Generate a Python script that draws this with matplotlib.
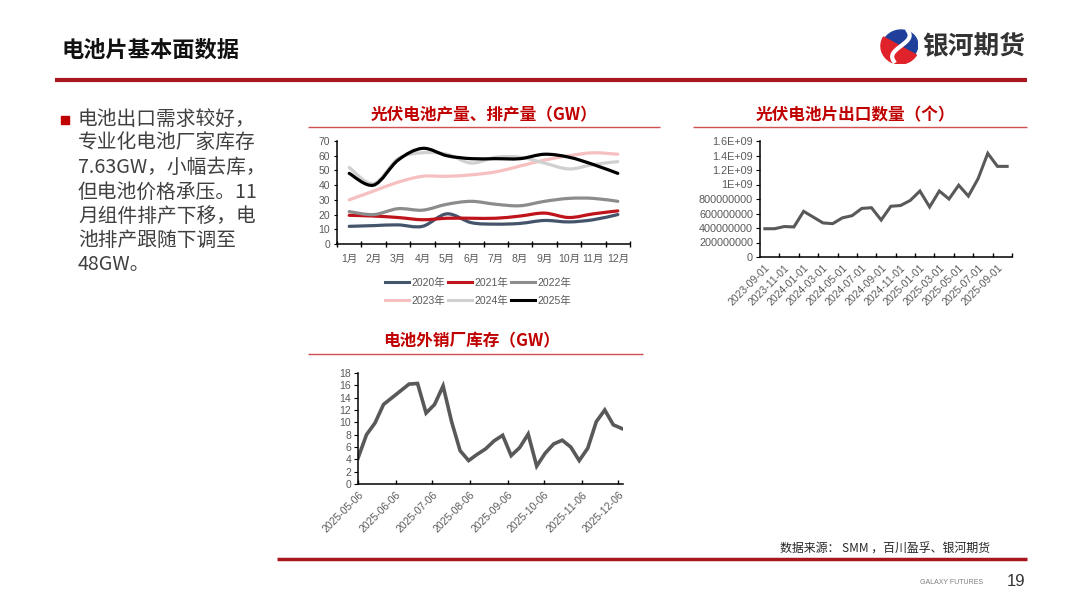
import matplotlib
matplotlib.use('Agg')
import matplotlib.pyplot as plt
import numpy as np
import pandas as pd
from matplotlib.path import Path
from matplotlib.patches import PathPatch, Rectangle, Ellipse, Wedge
from matplotlib.lines import Line2D
from matplotlib.ticker import FuncFormatter, MultipleLocator
import matplotlib.dates as mdates

plt.rcParams['font.family'] = ['Liberation Sans', 'Noto Sans CJK SC']
CJK = ['Noto Sans CJK SC', 'Liberation Sans']

# ---- data: 光伏电池产量、排产量 (GW) ----
months = ['1月', '2月', '3月', '4月', '5月', '6月', '7月', '8月', '9月', '10月', '11月', '12月']
y2020 = [12, 12.5, 13, 12, 20.5, 14.5, 13.5, 14, 16, 15, 16.5, 20]
y2021 = [19.5, 19, 18, 16.5, 17.5, 17.5, 17.5, 19, 21, 18, 20.5, 22.5]
y2022 = [22, 20, 24, 23, 27, 29, 27, 26, 29, 31, 31, 29]
y2023 = [30, 36, 42, 46, 46, 47, 49, 53, 57, 60, 62, 61]
y2024 = [52, 41, 58, 62, 61, 55, 59, 59, 55, 51, 54, 56]
y2025 = [48, 40, 57, 65, 60, 58, 58, 58, 61, 59, 54, 48]
series_names = ['2020年', '2021年', '2022年', '2023年', '2024年', '2025年']
series_colors = ['#44546A', '#C0141C', '#8C8C8C', '#F6C0C0', '#D0D0D0', '#000000']

# ---- data: 光伏电池片出口数量 (个) ----
export_months = pd.date_range('2023-09-01', '2025-10-01', freq='MS')
export_qty = [3.9e8, 3.9e8, 4.2e8, 4.15e8, 6.3e8, 5.5e8, 4.7e8, 4.6e8, 5.4e8, 5.7e8,
              6.7e8, 6.8e8, 5.1e8, 7.0e8, 7.1e8, 7.8e8, 9.1e8, 6.9e8, 9.1e8, 8.0e8,
              9.9e8, 8.4e8, 1.08e9, 1.43e9, 1.25e9, 1.25e9]

# ---- data: 电池外销厂库存 (GW) ----
stock_dates = pd.date_range('2025-05-06', periods=32, freq='7D')
stock_gw = [4.2, 8.0, 9.9, 12.9, 14.0, 15.1, 16.2, 16.3, 11.5, 12.9, 15.9, 10.1,
            5.4, 3.8, 4.8, 5.7, 7.0, 7.9, 4.6, 5.9, 8.1, 2.9, 5.0, 6.5,
            7.1, 6.0, 3.8, 5.8, 10.1, 12.0, 9.6, 9.0]

W, H = 1080, 608
TICK_C = '#595959'
TITLE_RED = '#C00000'
DARK_RED = '#A8171C'


def fx(x):
    return x / W


def fy(y):
    return 1 - y / H


def smooth_path(x, y):
    """Excel-like smoothed line as cubic bezier through the points."""
    pts = np.column_stack([x, y]).astype(float)
    n = len(pts)
    verts = [pts[0]]
    codes = [Path.MOVETO]
    for i in range(n - 1):
        p0 = pts[i - 1] if i > 0 else pts[i]
        p1 = pts[i]
        p2 = pts[i + 1]
        p3 = pts[i + 2] if i + 2 < n else pts[i + 1]
        verts += [p1 + (p2 - p0) / 6, p2 - (p3 - p1) / 6, p2]
        codes += [Path.CURVE4] * 3
    return Path(verts, codes)


def hline(fig, x0, x1, y, color, lw):
    fig.add_artist(Line2D([fx(x0), fx(x1)], [fy(y), fy(y)], transform=fig.transFigure,
                          color=color, lw=lw, solid_capstyle='butt'))


def style_axes(ax):
    for s in ['top', 'right']:
        ax.spines[s].set_visible(False)
    for s in ['left', 'bottom']:
        ax.spines[s].set_color('black')
        ax.spines[s].set_linewidth(1.1)
    ax.tick_params(colors=TICK_C, labelsize=7.5)
    ax.tick_params(axis='both', which='both', color='black')


fig = plt.figure(figsize=(10.8, 6.08), dpi=100)

# ---- page header ----
fig.text(fx(62), fy(50), '电池片基本面数据', family=CJK, fontsize=16, fontweight='bold',
         color='#111111', va='center', ha='left')
hline(fig, 55, 1027, 80, DARK_RED, 3.0)

# logo
lax = fig.add_axes([fx(880), fy(64), fx(38), 36 / H])
lax.set_xlim(-1, 1)
lax.set_ylim(-1, 1)
lax.axis('off')
lax.add_patch(Ellipse((0.05, 0.0), 1.9, 1.75, angle=25, color='#1F3F9A'))
lax.add_patch(Wedge((0.05, 0.0), 1.0, 150, 330, color='#E0222A'))
t = np.linspace(-1, 1, 40)
lax.plot(0.1 + 0.55 * np.sin(t * 2.6) * 0.6 + 0.2 * t, 0.85 * t, color='white', lw=3)
fig.text(fx(922), fy(46), '银河期货', family=CJK, fontsize=18.5, fontweight='bold',
         color='#333333', va='center', ha='left')

# ---- left bullet text ----
fig.add_artist(Rectangle((fx(61), fy(124)), fx(8), 8 / H, transform=fig.transFigure,
                         color='#C00000'))
lines = ['电池出口需求较好，', '专业化电池厂家库存', '7.63GW，小幅去库，', '但电池价格承压。11',
         '月组件排产下移，电', '池排产跟随下调至', '48GW。']
for i, s in enumerate(lines):
    fig.text(fx(78), fy(119 + i * 24.3), s, family=CJK, fontsize=14.2, color='#404040',
             va='center', ha='left')

# ---- chart 1: 光伏电池产量、排产量 ----
fig.text(fx(484), fy(115), '光伏电池产量、排产量（GW）', family=CJK, fontsize=12,
         fontweight='bold', color=TITLE_RED, ha='center', va='center')
hline(fig, 308, 660, 127, '#D05050', 1.0)

ax1 = fig.add_axes([fx(337), fy(244), fx(630) - fx(337), (244 - 141) / H])
style_axes(ax1)
xpos = np.arange(len(months))
for vals, c in zip([y2020, y2021, y2022, y2023, y2024, y2025], series_colors):
    ax1.add_patch(PathPatch(smooth_path(xpos, vals), facecolor='none', edgecolor=c,
                            lw=2.3, capstyle='round', joinstyle='round'))
ax1.set_xlim(-0.5, len(months) - 0.5)
ax1.set_ylim(0, 70)
ax1.yaxis.set_major_locator(MultipleLocator(10))
ax1.set_xticks(xpos)
ax1.set_xticklabels(months)
ax1.set_xticks(np.arange(-0.5, len(months), 1), minor=True)
ax1.tick_params(axis='x', which='major', length=0, pad=7)
ax1.tick_params(axis='x', which='minor', length=4, direction='inout', width=1)
ax1.tick_params(axis='y', length=2, pad=3)

handles = [Line2D([], [], color=c, lw=2.2) for c in series_colors]
order = [0, 3, 1, 4, 2, 5]
fig.legend([handles[i] for i in order], [series_names[i] for i in order], ncol=3,
           loc='center', bbox_to_anchor=(fx(478), fy(292)), frameon=False,
           fontsize=7.5, handlelength=2.3, handletextpad=0.2, columnspacing=0.3,
           labelspacing=0.75, labelcolor=TICK_C)

# ---- chart 2: 光伏电池片出口数量 ----
fig.text(fx(855), fy(115), '光伏电池片出口数量（个）', family=CJK, fontsize=12,
         fontweight='bold', color=TITLE_RED, ha='center', va='center')
hline(fig, 693, 1027, 127, '#D05050', 1.0)

ax2 = fig.add_axes([fx(760), fy(257), fx(1012) - fx(760), (257 - 141) / H])
style_axes(ax2)
epos = np.arange(len(export_qty))
ax2.plot(epos, export_qty, color='#595959', lw=2.2, solid_joinstyle='miter')
ax2.set_xlim(-0.5, len(export_qty) - 0.5)
ax2.set_ylim(0, 1.6e9)
ax2.yaxis.set_major_locator(MultipleLocator(2e8))


def exp_fmt(v, pos):
    if v >= 1e9:
        return f'{v / 1e9:g}E+09'
    return f'{int(round(v))}'


ax2.yaxis.set_major_formatter(FuncFormatter(exp_fmt))
ax2.set_xticks(epos[::2])
ax2.set_xticklabels([d.strftime('%Y-%m-%d') for d in export_months[::2]], rotation=45,
                    ha='right', rotation_mode='anchor')
ax2.set_xticks(np.arange(1.5, len(export_qty), 2), minor=True)
ax2.tick_params(axis='x', which='major', length=0, pad=4)
ax2.tick_params(axis='x', which='minor', length=3, direction='in', width=1)
ax2.tick_params(axis='y', length=3, direction='out', pad=2, labelsize=7.8)

# ---- chart 3: 电池外销厂库存 ----
fig.text(fx(472), fy(341), '电池外销厂库存（GW）', family=CJK, fontsize=12,
         fontweight='bold', color=TITLE_RED, ha='center', va='center')
hline(fig, 308, 643, 354, '#D05050', 1.0)

ax3 = fig.add_axes([fx(358), fy(484), fx(623) - fx(358), (484 - 373) / H])
style_axes(ax3)
ax3.plot(stock_dates, stock_gw, color='#595959', lw=2.6, solid_joinstyle='miter')
ax3.set_xlim(pd.Timestamp('2025-05-06'), pd.Timestamp('2025-12-10'))
ax3.set_ylim(0, 18)
ax3.yaxis.set_major_locator(MultipleLocator(2))
ax3.xaxis.set_major_locator(mdates.MonthLocator(bymonthday=6))
ax3.xaxis.set_major_formatter(mdates.DateFormatter('%Y-%m-%d'))
for lab in ax3.get_xticklabels():
    lab.set_rotation(45)
    lab.set_ha('right')
    lab.set_rotation_mode('anchor')
ax3.tick_params(axis='x', length=3, direction='in', width=1, pad=4)
ax3.tick_params(axis='y', length=3, direction='out', pad=2)

# ---- footer ----
fig.text(fx(990), fy(549), '数据来源： SMM ，百川盈孚、银河期货', family=CJK, fontsize=8.6,
         color='#262626', ha='right', va='center')
hline(fig, 277, 1027, 559, DARK_RED, 2.5)
fig.text(fx(983), fy(582), 'GALAXY FUTURES', fontsize=5, color='#7F7F7F', ha='right',
         va='center')
fig.text(fx(1025), fy(581), '19', fontsize=12, color='#333333', ha='right', va='center')

fig.savefig('out.png', dpi=100)
